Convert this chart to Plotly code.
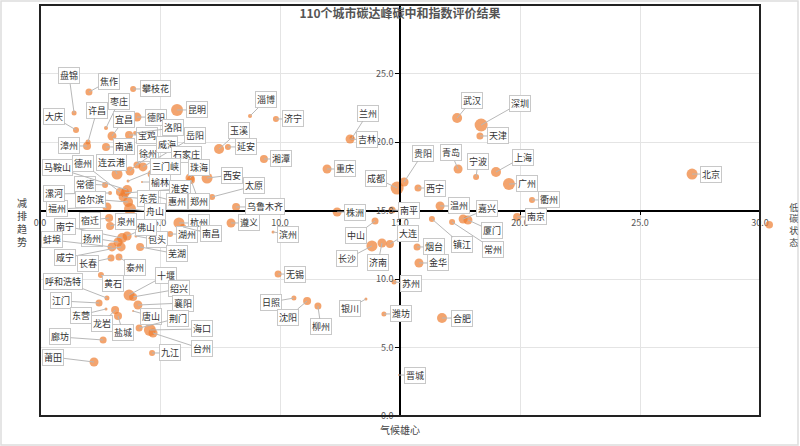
import plotly.graph_objects as go

# ---------------- data ----------------
cities = ["盘锦","焦作","攀枝花","枣庄","许昌","大庆","宜昌","德阳","昆明","宝鸡",
          "洛阳","岳阳","漳州","南通","连云港","徐州","威海","石家庄","三门峡","珠海",
          "西安","榆林","德州","常德","马鞍山","淮安","东莞","惠州","郑州","太原",
          "乌鲁木齐","遵义","杭州","湖州","南昌","包头","芜湖","佛山","舟山","福州",
          "漯河","哈尔滨","宿迁","泉州","南宁","扬州","蚌埠","咸宁","长春","泰州",
          "黄石","呼和浩特","十堰","绍兴","江门","东营","龙岩","盐城","襄阳","唐山",
          "荆门","海口","台州","廊坊","九江","莆田","淄博","济宁","兰州","吉林",
          "玉溪","延安","武汉","深圳","天津","湘潭","重庆","贵阳","成都","西宁",
          "青岛","宁波","上海","广州","衢州","南京","北京","温州","嘉兴","厦门",
          "镇江","常州","南平","株洲","中山","大连","长沙","济南","烟台","金华",
          "滨州","无锡","苏州","日照","沈阳","柳州","银川","潍坊","合肥","晋城"]

# 气候雄心 (x)
climate_ambition = [1.42,2.04,3.88,2.75,2.00,1.50,3.00,4.04,5.71,3.71,
                    3.96,4.29,1.96,2.75,3.21,3.75,4.04,4.67,3.67,6.25,
                    6.96,4.25,3.33,2.71,3.63,3.54,3.46,4.92,6.29,7.17,
                    8.17,7.96,5.79,5.42,5.96,4.00,4.17,3.63,3.75,2.79,
                    2.92,3.67,2.88,2.92,3.42,3.25,3.00,3.38,2.96,3.29,
                    2.54,2.79,3.71,3.88,2.46,2.75,3.13,3.25,4.08,3.88,
                    4.13,4.58,4.71,2.63,4.67,2.25,8.75,9.83,13.00,12.92,
                    7.46,7.83,17.38,18.38,18.33,9.33,11.96,15.17,14.88,15.75,
                    17.42,18.17,19.00,19.54,20.50,19.88,27.17,16.67,17.63,17.83,
                    16.33,17.17,14.67,12.38,13.96,14.58,13.83,14.25,15.71,15.79,
                    9.71,9.92,14.75,10.58,11.13,11.58,13.58,14.33,16.75,14.96]

# 减排趋势 (y)
emission_trend = [22.12,23.65,23.87,21.02,20.00,20.88,20.44,21.82,22.34,20.51,
                  20.66,18.18,19.71,19.64,17.66,17.88,18.32,17.66,17.15,17.37,
                  17.37,17.08,16.35,16.86,16.50,16.28,15.99,15.99,17.23,15.99,
                  15.26,14.09,14.09,13.28,13.80,13.14,12.34,13.14,15.11,15.26,
                  16.28,15.62,14.45,13.87,12.99,12.70,12.34,12.34,11.53,11.61,
                  10.29,8.61,8.83,8.69,8.25,7.81,7.74,7.30,8.10,7.66,
                  6.42,6.28,6.06,5.55,4.60,3.94,21.90,21.68,20.29,20.22,
                  19.49,19.64,21.75,21.24,20.44,18.76,18.03,17.08,16.64,16.64,
                  18.03,17.45,17.81,16.93,15.77,14.53,17.66,15.33,14.38,14.31,
                  14.38,14.16,15.04,14.89,14.23,12.55,12.41,12.63,12.34,11.17,
                  13.43,10.36,9.78,8.61,8.39,8.03,8.54,7.45,7.15,2.99]

# 低碳状态 (bubble size)
low_carbon_state = [5,7,6,4,5,6,9,9,12,8,
                    4,9,8,8,11,9,7,9,3,9,
                    11,2,8,6,10,9,9,2,8,6,
                    8,9,11,6,6,3,8,9,12,9,
                    4,10,8,8,10,9,9,9,7,7,
                    6,5,11,8,7,3,8,8,9,2,
                    7,12,9,7,6,9,4,6,5,9,
                    10,6,10,13,7,8,9,9,13,7,
                    9,6,10,12,6,8,11,9,9,9,
                    6,6,7,9,7,8,11,9,7,9,
                    3,7,5,5,8,7,3,5,10,2]

axis_ticks = [0, 5, 10, 15, 20, 25, 30]

# ---------------- label layout (pixel offsets of callouts) ----------------
label_offsets = [(-5,-37),(20,-11),(22,0),(13,-27),(9,-32),(-22,-13),(12,-16),(19,0),(20,0),(18,0),
                 (38,-5),(52,-31),(-18,0),(18,0),(-6,-12),(18,-18),(30,-21),(34,-20),(37,-15),(9,-11),
                 (25,-3),(18,0),(-37,-29),(-20,-1),(-70,-22),(55,-4),(25,2),(19,5),(8,22),(42,-11),
                 (29,0),(18,0),(20,0),(17,0),(28,7),(21,4),(37,7),(19,-8),(25,3),(-50,2),
                 (-56,1),(-38,-3),(-19,2),(16,-4),(-57,-12),(-26,-4),(-60,-7),(-56,11),(-23,5),(16,11),
                 (12,8),(-44,-17),(37,-20),(46,-8),(-38,-2),(-25,6),(-13,14),(5,17),(45,-2),(18,5),
                 (39,-10),(52,-1),(49,16),(-43,-3),(18,0),(-41,-5),(16,-16),(17,0),(16,-25),(17,1),
                 (20,-18),(18,0),(15,-18),(39,-22),(18,0),(17,0),(18,0),(19,-29),(-21,-10),(17,0),
                 (-7,-16),(2,-15),(27,-15),(18,-1),(17,0),(19,0),(19,0),(19,0),(24,-10),(24,11),
                 (30,26),(41,27),(17,1),(18,0),(-19,14),(18,-11),(-25,13),(-4,20),(17,0),(19,0),
                 (15,2),(17,0),(17,1),(-23,4),(-19,16),(3,21),(-16,9),(17,0),(20,0),(16,0)]

FONT = "Noto Sans CJK SC, Noto Sans, sans-serif"
ORANGE = "#EE7D31"

fig = go.Figure()
fig.add_trace(go.Scatter(
    x=climate_ambition, y=emission_trend, text=cities, mode="markers",
    name="低<br>碳<br>状<br>态",
    marker=dict(size=low_carbon_state, sizemode="diameter", sizeref=1,
                color=ORANGE, line=dict(width=0)),
    hovertemplate="%{text}<br>气候雄心 %{x}<br>减排趋势 %{y}<extra></extra>",
    showlegend=True,
))

annotations = []
for name, xv, yv, (ax, ay) in zip(cities, climate_ambition, emission_trend, label_offsets):
    annotations.append(dict(
        x=xv, y=yv, xref="x", yref="y", text=name,
        showarrow=True, arrowhead=0, arrowwidth=1, arrowcolor="#b8b8b8",
        ax=ax, ay=ay, standoff=0,
        bgcolor="white", bordercolor="#c8c8c8", borderwidth=1, borderpad=1,
        font=dict(family=FONT, size=9, color="#333"),
    ))

annotations.append(dict(text="气候雄心", x=0.5, y=-0.034, xref="paper", yref="paper",
                        showarrow=False, xanchor="center", yanchor="middle",
                        font=dict(family=FONT, size=10, color="#444")))
annotations.append(dict(text="减<br>排<br>趋<br>势", x=-0.025, y=0.472, xref="paper", yref="paper",
                        showarrow=False, xanchor="center", yanchor="middle",
                        font=dict(family=FONT, size=10, color="#444")))

axis_common = dict(
    range=[0, 30], tickvals=axis_ticks, tickformat=".1f",
    anchor="free", position=0.5,
    showline=True, linecolor="black", linewidth=1.5,
    ticks="outside", ticklen=4, tickcolor="black",
    showgrid=True, gridcolor="#e4e4e4", gridwidth=1, zeroline=False,
    tickfont=dict(family=FONT, size=9, color="#555"),
)

fig.update_layout(
    width=800, height=446,
    margin=dict(l=40, r=40, t=5, b=30, autoexpand=False),
    paper_bgcolor="white", plot_bgcolor="white",
    title=dict(text="<b>110个城市碳达峰碳中和指数评价结果</b>", x=0.5, xanchor="center",
               y=1 - 14 / 446, yanchor="middle",
               font=dict(family=FONT, size=12, color="#555")),
    xaxis=dict(axis_common),
    yaxis=dict(axis_common),
    annotations=annotations,
    showlegend=True,
    legend=dict(x=0.985, y=0.465, xanchor="left", yanchor="middle",
                bgcolor="rgba(0,0,0,0)", itemsizing="trace",
                font=dict(family=FONT, size=9, color="#444")),
    shapes=[
        dict(type="rect", xref="paper", yref="paper", x0=0, x1=1, y0=0, y1=1,
             line=dict(color="#222", width=2), layer="above"),
        dict(type="rect", xref="paper", yref="paper",
             x0=-39 / 720, x1=1 + 38 / 720, y0=-29 / 411, y1=1 + 4 / 411,
             line=dict(color="#dddddd", width=1.5), layer="below"),
    ],
)

fig.write_html("out.html")
